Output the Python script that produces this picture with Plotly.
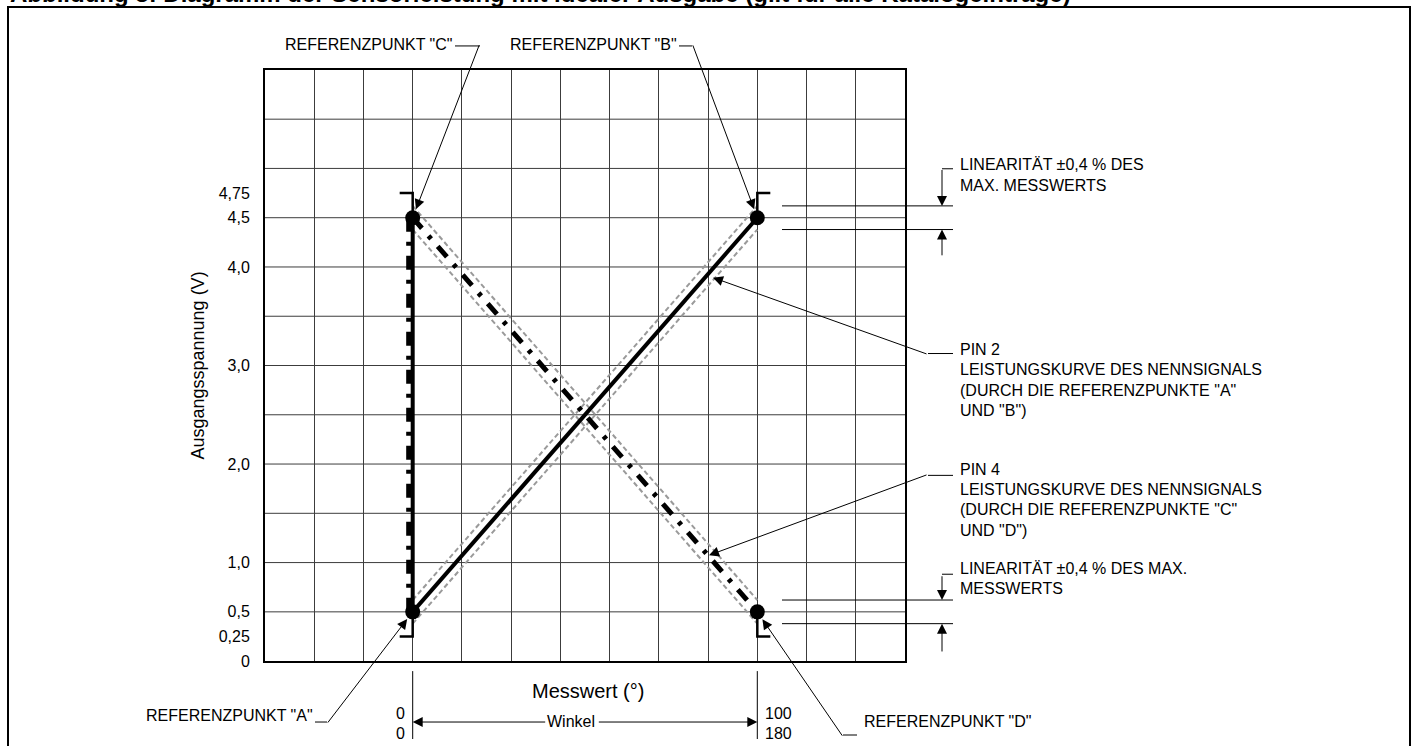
import numpy as np
import plotly.graph_objects as go

W, H = 1418, 746
FH = 754            # page height that ends up squeezed into the 746 px picture
SQ = H / FH
FONT = "Liberation Sans, Arial, sans-serif"
GRID = "#3c3c3c"
BAND = "#9a9a9a"

# values
angle_pct = [0, 100]          # Messwert, % of travel
angle_deg = [0, 180]          # same span in degrees
pin2_volts = [0.5, 4.5]       # reference points A -> B
pin4_volts = [4.5, 0.5]       # reference points C -> D
limit_volts = [0.25, 4.75]    # clamp brackets
linearity_tol = 0.12          # half width of the linearity band, V
ytick_vals = [0, 0.25, 0.5, 1.0, 2.0, 3.0, 4.0, 4.5, 4.75]
ytick_text = ["0", "0,25", "0,5", "1,0", "2,0", "3,0", "4,0", "4,5", "4,75"]
grid_step_x = 100 / 7
grid_step_y = 0.5
x_range = [-3 * grid_step_x, 10 * grid_step_x]
y_range = [0, 6]

# plot box in picture pixels
L, T, R, B = 265, 70, 905, 662
px_per_x = (R - L) / (x_range[1] - x_range[0])


def px(x):
    return x / W


def py(y):
    return 1 - (y / SQ) / FH


def dy(d):
    # vertical pixel offset in the picture -> page pixels
    return d / SQ


fig = go.Figure()

# linearity bands around both curves
for volts in (pin2_volts, pin4_volts):
    for sign in (1, -1):
        fig.add_trace(go.Scatter(
            x=angle_pct, y=[v + sign * linearity_tol for v in volts],
            mode="lines", line=dict(color=BAND, width=2, dash="5px,3px"),
            hoverinfo="skip"))

# vertical jump at 0 (solid + dash-dot drawn side by side)
fig.add_trace(go.Scatter(
    x=[angle_pct[0]] * 2, y=[pin2_volts[0], pin4_volts[0]], mode="lines",
    line=dict(color="black", width=4), hoverinfo="skip"))
fig.add_trace(go.Scatter(
    x=[angle_pct[0] - 4 / px_per_x] * 2, y=[pin4_volts[0], pin2_volts[0]],
    mode="lines", line=dict(color="black", width=5, dash="14px,10px,4px,10px"),
    hoverinfo="skip"))

# pin 2 and pin 4 output
fig.add_trace(go.Scatter(
    x=angle_pct, y=pin2_volts, mode="lines",
    line=dict(color="black", width=4), hoverinfo="skip"))
fig.add_trace(go.Scatter(
    x=angle_pct, y=pin4_volts, mode="lines",
    line=dict(color="black", width=5, dash="14px,10px,4px,10px"),
    hoverinfo="skip"))

# clamp brackets at 0,25 / 4,75
bw = 13 / px_per_x
for xa, side in ((angle_pct[0], -1), (angle_pct[1], 1)):
    for lim, ref in ((limit_volts[1], pin2_volts[1]), (limit_volts[0], pin2_volts[0])):
        fig.add_trace(go.Scatter(
            x=[xa + side * bw, xa, xa], y=[lim, lim, ref], mode="lines",
            line=dict(color="black", width=2.5), hoverinfo="skip"))

# reference points
fig.add_trace(go.Scatter(
    x=angle_pct + angle_pct, y=pin2_volts + pin4_volts, mode="markers",
    marker=dict(color="black", size=15), hoverinfo="skip"))

shapes = []
for v in np.arange(grid_step_y, y_range[1], grid_step_y):
    shapes.append(dict(type="line", xref="x", yref="y", x0=x_range[0], x1=x_range[1],
                       y0=v, y1=v, line=dict(color=GRID, width=1), layer="below"))


def seg(x0, y0, x1, y1, w=1):
    shapes.append(dict(type="line", xref="paper", yref="paper",
                       x0=px(x0), y0=py(y0), x1=px(x1), y1=py(y1),
                       line=dict(color="black", width=w)))


# outer frame
shapes.append(dict(type="rect", xref="paper", yref="paper", x0=px(8), x1=px(1410),
                   y0=py(7), y1=-0.05, line=dict(color="black", width=2)))

# linearity dimension lines
for lv in (pin2_volts[1], pin2_volts[0]):
    for sign in (1, -1):
        shapes.append(dict(type="line", xref="paper", yref="y", x0=px(782), x1=px(953),
                           y0=lv + sign * linearity_tol, y1=lv + sign * linearity_tol,
                           line=dict(color="black", width=1)))

# leader stubs
seg(455, 46, 480, 46)
seg(679, 46, 692, 46)
seg(315, 723, 327, 723)
seg(843, 736, 857, 736)
seg(928, 354, 953, 354)
seg(928, 476, 953, 476)
seg(942, 169, 953, 169)
seg(942, 575, 953, 575)

# angle extension lines
for xa in angle_pct:
    shapes.append(dict(type="line", xref="x", yref="paper", x0=xa, x1=xa,
                       y0=py(672), y1=py(740), line=dict(color="black", width=1)))

ann = []


def text(t, x, y, size=16, anchor="left", **kw):
    ann.append(dict(text=t, x=px(x), y=py(y), xref="paper", yref="paper",
                    xanchor=anchor, yanchor="middle", showarrow=False,
                    font=dict(family=FONT, size=size, color="black"), **kw))


def lines(rows, x, y, step=20.3):
    for i, t in enumerate(rows):
        text(t, x, y + i * step)


def arrow(x, y, ax, ay, xref="paper", yref="paper", standoff=0):
    ann.append(dict(text="", x=x, y=y, xref=xref, yref=yref, ax=ax, ay=dy(ay),
                    showarrow=True, arrowhead=2, arrowsize=2, arrowwidth=1,
                    arrowcolor="black", standoff=standoff))


text("<b>Abbildung 3: Diagramm der Sensorleistung mit idealer Ausgabe "
     "(gilt für alle Katalogeinträge)</b>", 8, -6.5, size=24)

text('REFERENZPUNKT "C"', 283, 45)
text('REFERENZPUNKT "B"', 508, 45)
text('REFERENZPUNKT "A"', 315, 716, anchor="right")
text('REFERENZPUNKT "D"', 862, 722)

arrow(angle_pct[0], pin4_volts[0], 67, -172, "x", "y", standoff=9)
arrow(angle_pct[1], pin2_volts[1], -65, -172, "x", "y", standoff=9)
arrow(angle_pct[0], pin2_volts[0], -86, 111, "x", "y", standoff=9)
arrow(angle_pct[1], pin4_volts[1], 86, 124, "x", "y", standoff=9)

lines(["LINEARITÄT ±0,4 % DES", "MAX. MESSWERTS"], 958, 165)
lines(["PIN 2", "LEISTUNGSKURVE DES NENNSIGNALS",
       '(DURCH DIE REFERENZPUNKTE "A"', 'UND "B")'], 958, 350)
lines(["PIN 4", "LEISTUNGSKURVE DES NENNSIGNALS",
       '(DURCH DIE REFERENZPUNKTE "C"', 'UND "D")'], 958, 470)
lines(["LINEARITÄT ±0,4 % DES MAX.", "MESSWERTS"], 958, 569)

arrow(px(713), py(278), 215, 76)
arrow(px(709), py(556), 219, -80)

# linearity arrows
arrow(px(942), pin2_volts[1] + linearity_tol, 0, -37, yref="y")
arrow(px(942), pin2_volts[1] - linearity_tol, 0, 27, yref="y")
arrow(px(942), pin2_volts[0] + linearity_tol, 0, -25, yref="y")
arrow(px(942), pin2_volts[0] - linearity_tol, 0, 29, yref="y")

# axis titles
text("Messwert (°)", 588, 692, size=20, anchor="center")
ann.append(dict(text="Ausgangsspannung (V)", x=px(198), y=py(366), xref="paper",
                yref="paper", xanchor="center", yanchor="middle", textangle=-90,
                showarrow=False, font=dict(family=FONT, size=18, color="black")))

# angle dimension
arrow(angle_pct[0], py(723), 134, 0, xref="x")
arrow(angle_pct[1], py(723), -160, 0, xref="x")
text("Winkel", 571, 722, anchor="center")
text(str(angle_pct[0]), 407, 714, anchor="right")
text(str(angle_deg[0]), 407, 734, anchor="right")
text(str(angle_pct[1]), 763, 714)
text(str(angle_deg[1]), 763, 734)

axis_common = dict(zeroline=False, showline=True, mirror=True, linecolor="black",
                   linewidth=2, ticks="", fixedrange=True)
fig.update_layout(
    width=W, height=FH, margin=dict(l=0, r=0, t=0, b=0),
    paper_bgcolor="white", plot_bgcolor="white", showlegend=False,
    xaxis=dict(domain=[px(L), px(R)], range=x_range, showgrid=True, gridcolor=GRID,
               gridwidth=1, tick0=0, dtick=grid_step_x, showticklabels=False,
               **axis_common),
    yaxis=dict(domain=[py(B), py(T)], range=y_range, showgrid=False,
               tickvals=ytick_vals, ticktext=ytick_text, ticklabelstandoff=10,
               tickfont=dict(family=FONT, size=16, color="black"), **axis_common),
    shapes=shapes, annotations=ann,
)

fig.write_html("out.html", config={"displayModeBar": False},
               post_script="document.body.style.margin = '0';")
